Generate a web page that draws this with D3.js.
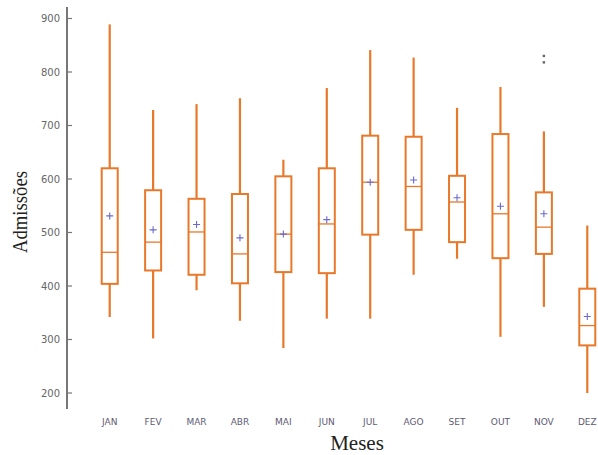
<!DOCTYPE html>
<html><head><meta charset="utf-8">
<script src="https://cdn.jsdelivr.net/npm/d3@7/dist/d3.min.js"></script>
<style>body{margin:0;background:#fff}svg{display:block}</style>
</head><body><svg id="c" width="598" height="455"></svg>
<script>
const months = ["JAN","FEV","MAR","ABR","MAI","JUN","JUL","AGO","SET","OUT","NOV","DEZ"];
const whiskerLow  = [342,302,392,335,284,339,339,421,451,305,361,200];
const q1          = [404,429,421,405,426,424,496,505,482,452,460,289];
const medians     = [463,482,501,460,497,516,594,586,557,535,510,326];
const q3          = [620,579,563,572,605,620,681,679,606,684,575,395];
const whiskerHigh = [889,729,740,751,636,770,841,827,733,772,689,513];
const means       = [531,505,515,490,497,524,594,598,565,549,535,343];
const outliers    = [{m:"NOV", v:830},{m:"NOV", v:818}];
const yTicks = [200,300,400,500,600,700,800,900];

const svg = d3.select("#c");
const orange = "#E8782A";
const x = d3.scaleBand().domain(months).range([88, 609]).paddingInner(0).paddingOuter(0);
const y = d3.scaleLinear().domain([200, 900]).range([393, 18.5]);
const bw = 16;
const cx = m => x(m) + x.bandwidth()/2;

// y axis
const ax = svg.append("g").attr("transform","translate(67,0)");
ax.append("line").attr("x1",0).attr("x2",0).attr("y1",7).attr("y2",409).attr("stroke","#777").attr("stroke-width",2);
ax.selectAll(".t").data(yTicks).join("line").attr("x1",0).attr("x2",5)
  .attr("y1",d=>y(d)).attr("y2",d=>y(d)).attr("stroke","#777").attr("stroke-width",1.2);
ax.selectAll(".l").data(yTicks).join("text").attr("x",-7).attr("y",d=>y(d)).attr("dy","0.35em")
  .attr("text-anchor","end").attr("font-family","DejaVu Sans, sans-serif").attr("font-size",10)
  .attr("fill","#666").text(d=>d);

// x labels
svg.selectAll(".xl").data(months).join("text").attr("x",d=>cx(d)).attr("y",425)
  .attr("text-anchor","middle").attr("font-family","DejaVu Sans, sans-serif").attr("font-size",9)
  .attr("fill","#5e5a72").text(d=>d);

// boxes
const g = svg.append("g");
months.forEach((m,i)=>{
  const c = cx(m);
  g.append("line").attr("x1",c).attr("x2",c).attr("y1",y(whiskerHigh[i])).attr("y2",y(q3[i]))
    .attr("stroke",orange).attr("stroke-width",2.2);
  g.append("line").attr("x1",c).attr("x2",c).attr("y1",y(q1[i])).attr("y2",y(whiskerLow[i]))
    .attr("stroke",orange).attr("stroke-width",2.2);
  g.append("rect").attr("x",c-bw/2).attr("y",y(q3[i])).attr("width",bw).attr("height",y(q1[i])-y(q3[i]))
    .attr("fill","none").attr("stroke",orange).attr("stroke-width",2);
  g.append("line").attr("x1",c-bw/2).attr("x2",c+bw/2).attr("y1",y(medians[i])).attr("y2",y(medians[i]))
    .attr("stroke",orange).attr("stroke-width",1.3);
  const my = y(means[i]);
  g.append("path").attr("d",`M${c-3.5},${my}H${c+3.5}M${c},${my-3.5}V${my+3.5}`)
    .attr("stroke","#6a6ad0").attr("stroke-width",1.1);
});
svg.selectAll(".o").data(outliers).join("rect").attr("x",d=>cx(d.m)-1.2).attr("y",d=>y(d.v)-1.2)
  .attr("width",2.4).attr("height",2.4).attr("fill","#666");

// axis titles
svg.append("text").attr("x",357).attr("y",450).attr("text-anchor","middle")
  .attr("font-family","Liberation Serif, serif").attr("font-size",21).attr("fill","#222").text("Meses");
svg.append("text").attr("transform","translate(27,212) rotate(-90)").attr("text-anchor","middle")
  .attr("font-family","Liberation Serif, serif").attr("font-size",20).attr("fill","#222")
  .attr("textLength",82).attr("lengthAdjust","spacingAndGlyphs").text("Admissões");
</script></body></html>
